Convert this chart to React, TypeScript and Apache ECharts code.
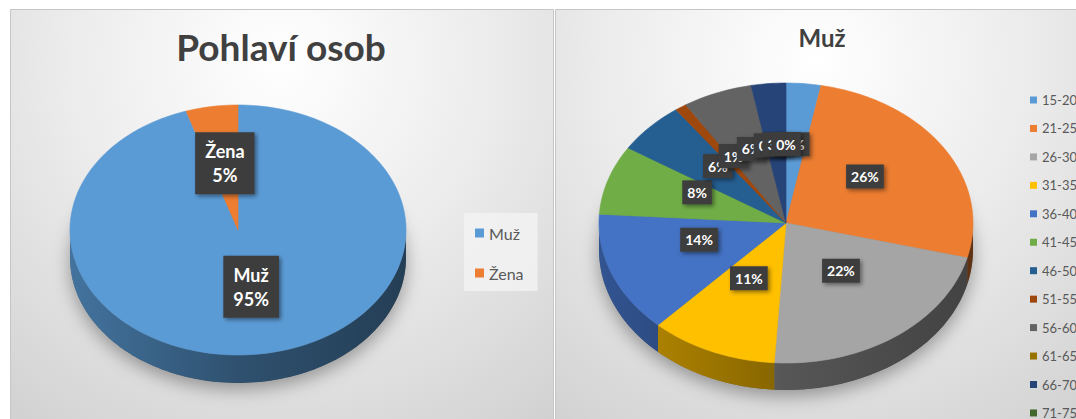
import React, { useEffect, useRef } from 'react';
import * as echarts from 'echarts';

const leftTitle = 'Pohlaví osob';
const rightTitle = 'Muž';

const genderNames = ['Muž', 'Žena'];
const genderValues = [95, 5];
const genderColors = ['#5B9BD5', '#ED7D31'];

const ageNames = ['15-20', '21-25', '26-30', '31-35', '36-40', '41-45', '46-50', '51-55', '56-60', '61-65', '66-70', '71-75'];
const ageValues = [3, 26, 22, 11, 14, 8, 6, 1, 6, 0, 3, 0];
const ageColors = ['#5B9BD5', '#ED7D31', '#A5A5A5', '#FFC000', '#4472C4', '#70AD47', '#255E91', '#9E480E', '#636363', '#997300', '#264478', '#43682B'];

const FONT = 'Lato, "Open Sans", "DejaVu Sans", sans-serif';

type Geom = {
  cx: number; cy: number; rx: number; ry: number; depth: number;
  labelR: number; labelDy: number; fontSize: number; lineHeight: number;
  padding: number[]; withName: boolean;
};

const leftGeom: Geom = { cx: 238, cy: 230, rx: 168, ry: 125, depth: 28, labelR: 0.5, labelDy: -5, fontSize: 18, lineHeight: 24, padding: [7, 10], withName: true };
const rightGeom: Geom = { cx: 786, cy: 223, rx: 187, ry: 140, depth: 27, labelR: 0.5, labelDy: -9, fontSize: 14, lineHeight: 16, padding: [4, 5], withName: false };

function shade(hex: string, f: number) {
  const n = parseInt(hex.slice(1), 16);
  const r = Math.round(((n >> 16) & 255) * f);
  const g = Math.round(((n >> 8) & 255) * f);
  const b = Math.round((n & 255) * f);
  return `rgb(${r},${g},${b})`;
}

function makeRenderItem(names: string[], values: number[], colors: string[], g: Geom) {
  const total = values.reduce((a, b) => a + b, 0);
  const starts: number[] = [];
  let acc = 0;
  values.forEach((v) => { starts.push(acc); acc += v; });
  const TAU = Math.PI * 2;
  const pt = (t: number, dy: number) => [g.cx + g.rx * Math.sin(t), g.cy - g.ry * Math.cos(t) + dy];
  const arc = (s: number, e: number, dy: number) => {
    const n = Math.max(1, Math.ceil((e - s) / (Math.PI / 120)));
    const out: number[][] = [];
    for (let k = 0; k <= n; k++) out.push(pt(s + ((e - s) * k) / n, dy));
    return out;
  };
  return (params: any, api: any) => {
    const i = params.dataIndex;
    const v = api.value(0);
    const a1 = (starts[i] / total) * TAU;
    const a2 = ((starts[i] + v) / total) * TAU;
    const color = colors[i];
    const children: any[] = [];
    if (i === 0) {
      children.push({
        type: 'polygon', z2: 0, silent: true,
        shape: { points: arc(0, TAU, g.depth) },
        style: { fill: '#777', shadowBlur: 18, shadowColor: 'rgba(0,0,0,0.35)', shadowOffsetY: 6 },
      });
    }
    const s = Math.max(a1, Math.PI / 2);
    const e = Math.min(a2, Math.PI * 1.5);
    if (e > s) {
      const pts = arc(s, e, 0).concat(arc(s, e, g.depth).reverse());
      children.push({
        type: 'polygon', z2: 1, silent: true,
        shape: { points: pts },
        style: {
          fill: {
            type: 'linear', global: true, x: g.cx - g.rx, y: 0, x2: g.cx + g.rx, y2: 0,
            colorStops: [
              { offset: 0, color: shade(color, 0.74) },
              { offset: 0.5, color: shade(color, 0.52) },
              { offset: 1, color: shade(color, 0.4) },
            ],
          },
          stroke: null,
        },
      });
    }
    if (a2 > a1) {
      children.push({
        type: 'polygon', z2: 2, silent: true,
        shape: { points: [[g.cx, g.cy]].concat(arc(a1, a2, 0)) },
        style: { fill: color, stroke: color, lineWidth: 0.6 },
      });
    }
    const mid = (a1 + a2) / 2;
    const pct = Math.round((v / total) * 100) + '%';
    const lx = g.cx + g.rx * g.labelR * Math.sin(mid);
    const ly = g.cy - g.ry * g.labelR * Math.cos(mid) + g.labelDy;
    children.push({
      type: 'text', z2: 10 + i, silent: true, x: lx, y: ly,
      style: {
        text: g.withName ? names[i] + '\n' + pct : pct,
        fill: '#ffffff', fontSize: g.fontSize, fontWeight: 'bold', fontFamily: FONT,
        align: 'center', verticalAlign: 'middle', lineHeight: g.lineHeight,
        backgroundColor: '#3d3d3d', padding: g.padding,
        shadowBlur: 4, shadowColor: 'rgba(0,0,0,0.45)', shadowOffsetX: 2, shadowOffsetY: 2,
      },
    });
    return { type: 'group', children };
  };
}

function panelFill(cx: number, cy: number) {
  return {
    type: 'radial', global: true, x: cx, y: cy, r: 470,
    colorStops: [
      { offset: 0, color: '#ffffff' },
      { offset: 0.45, color: '#ececec' },
      { offset: 1, color: '#cfcfcf' },
    ],
  };
}

export default function App() {
  const ref = useRef<HTMLDivElement>(null);
  useEffect(() => {
    document.body.style.margin = '0';
    if (!ref.current) return;
    const chart = echarts.init(ref.current, undefined, { renderer: 'svg' });
    chart.setOption({
      animation: false,
      backgroundColor: '#ffffff',
      title: [
        { text: leftTitle, left: 276, top: 23, textAlign: 'center', textStyle: { fontSize: 37, fontWeight: 'bold', color: '#404040', fontFamily: FONT } },
        { text: rightTitle, left: 817, top: 20, textAlign: 'center', textStyle: { fontSize: 24, fontWeight: 'bold', color: '#404040', fontFamily: FONT } },
      ],
      legend: [
        {
          data: genderNames, orient: 'vertical', left: 464, top: 213, padding: [11, 14, 9, 11],
          itemWidth: 9, itemHeight: 9, itemGap: 22, icon: 'rect', selectedMode: false,
          backgroundColor: 'rgba(242,242,242,0.85)',
          textStyle: { fontSize: 16, color: '#595959', fontFamily: FONT, lineHeight: 18 },
        },
        {
          data: ageNames, orient: 'vertical', left: 1030, top: 93, height: 400, padding: 0,
          itemWidth: 7, itemHeight: 7, itemGap: 14.45, icon: 'rect', selectedMode: false,
          textStyle: { fontSize: 13, color: '#595959', fontFamily: FONT, lineHeight: 14 },
        },
      ],
      graphic: [
        { type: 'rect', z: -10, silent: true, shape: { x: 10.5, y: 9.5, width: 543, height: 420 }, style: { fill: panelFill(281, 60), stroke: '#c6c6c6', lineWidth: 1 } },
        { type: 'rect', z: -10, silent: true, shape: { x: 555.5, y: 9.5, width: 540, height: 420 }, style: { fill: panelFill(815, 60), stroke: '#c6c6c6', lineWidth: 1 } },
      ],
      series: [
        {
          type: 'pie', name: 'Pohlaví (legenda)', radius: [0, 0], center: [-100, -100], silent: true,
          label: { show: false }, labelLine: { show: false },
          data: genderNames.map((n, i) => ({ name: n, value: genderValues[i], itemStyle: { color: genderColors[i] } })),
        },
        {
          type: 'pie', name: 'Věk (legenda)', radius: [0, 0], center: [-100, -100], silent: true,
          label: { show: false }, labelLine: { show: false },
          data: ageNames.map((n, i) => ({ name: n, value: ageValues[i], itemStyle: { color: ageColors[i] } })),
        },
        {
          type: 'custom', name: 'Pohlaví osob', coordinateSystem: 'none', silent: true,
          renderItem: makeRenderItem(genderNames, genderValues, genderColors, leftGeom),
          data: genderValues.map((v, i) => ({ name: genderNames[i], value: [v] })),
        },
        {
          type: 'custom', name: 'Muž - věk', coordinateSystem: 'none', silent: true,
          renderItem: makeRenderItem(ageNames, ageValues, ageColors, rightGeom),
          data: ageValues.map((v, i) => ({ name: ageNames[i], value: [v] })),
        },
      ],
    });
    return () => chart.dispose();
  }, []);
  return <div ref={ref} style={{ width: 1076, height: 419 }} />;
}
